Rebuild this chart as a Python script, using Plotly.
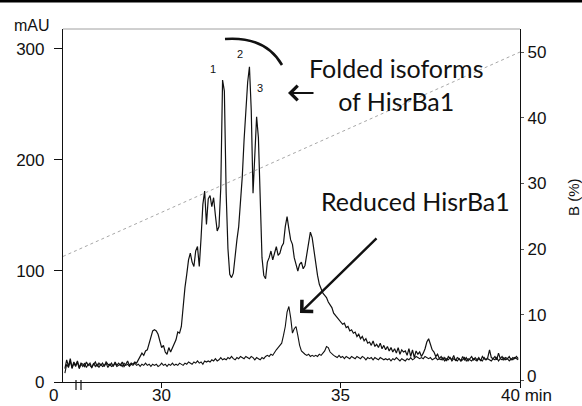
import numpy as np
import plotly.graph_objects as go

# ---------------- data ----------------
# sampling grid of the chromatograms (min)
t_start, t_step, n_pts = 27.30, 0.05, 254
time_min = [round(t_start + t_step * i, 2) for i in range(n_pts)]

folded_mAU = [
    12, 20, 14, 21, 13, 18, 15, 19, 13, 17,
    16, 14, 18, 15, 17, 13, 16, 18, 14, 17,
    15, 17, 14, 18, 16, 15, 17, 14, 18, 15,
    17, 15, 18, 14, 16, 19, 15, 17, 16, 18,
    17, 20, 22, 26, 24, 28, 29, 35, 41, 46,
    47, 46, 43, 36, 31, 33, 27, 25, 31, 27,
    31, 35, 38, 45, 44, 50, 72, 85, 97, 110,
    116, 108, 104, 118, 122, 104, 130, 160, 172, 142,
    165, 168, 158, 166, 150, 136, 140, 175, 272, 262,
    170, 120, 97, 94, 98, 115, 128, 140, 160, 185,
    218, 245, 270, 284, 245, 170, 212, 239, 220, 160,
    112, 96, 93, 108, 112, 118, 110, 116, 122, 114,
    116, 122, 125, 140, 149, 138, 128, 124, 112, 106,
    100, 106, 108, 102, 105, 115, 126, 135, 130, 118,
    104, 96, 88, 84, 80, 78, 76, 72, 70, 67,
    62, 60, 58, 56, 55, 52, 53, 49, 50, 46,
    47, 44, 45, 41, 43, 39, 41, 37, 39, 35,
    36, 33, 37, 32, 34, 31, 35, 30, 33, 29,
    32, 28, 31, 27, 30, 26, 31, 25, 29, 27,
    28, 24, 30, 23, 29, 22, 28, 25, 27, 23,
    26, 30, 36, 39, 34, 29, 27, 23, 25, 21,
    23, 20, 22, 19, 23, 21, 20, 24, 19, 22,
    21, 19, 23, 20, 22, 19, 21, 23, 20, 22,
    20, 22, 19, 23, 21, 20, 22, 29, 22, 21,
    23, 20, 26, 21, 23, 20, 22, 21, 23, 20,
    22, 21, 23, 21,
]

reduced_mAU = [
    8, 16, 13, 19, 12, 17, 14, 18, 12, 16,
    14, 17, 13, 16, 15, 13, 17, 14, 16, 13,
    16, 14, 15, 17, 13, 16, 14, 15, 17, 14,
    15, 16, 14, 17, 15, 16, 14, 16, 15, 17,
    15, 16, 14, 16, 15, 17, 15, 16, 14, 16,
    15, 16, 14, 15, 17, 15, 16, 14, 16, 15,
    17, 15, 16, 15, 17, 16, 15, 17, 16, 18,
    17, 16, 18, 17, 19, 17, 18, 16, 19, 18,
    19, 18, 20, 19, 21, 19, 20, 22, 20, 21,
    20, 22, 21, 23, 21, 20, 22, 21, 23, 22,
    21, 23, 22, 21, 23, 22, 20, 22, 21, 20,
    22, 21, 23, 24, 23, 25, 24, 27, 29, 31,
    33, 35, 42, 50, 63, 68, 58, 44, 48, 50,
    42, 33, 28, 26, 25, 24, 25, 23, 24, 23,
    24, 23, 25, 24, 26, 28, 32, 31, 27, 25,
    24, 23, 22, 24, 22, 23, 21, 23, 22, 21,
    23, 22, 21, 23, 22, 21, 23, 22, 20, 22,
    21, 22, 20, 22, 21, 20, 22, 21, 20, 21,
    20, 21, 19, 21, 20, 22, 20, 19, 21, 20,
    19, 21, 20, 22, 20, 21, 23, 22, 21, 22,
    21, 23, 22, 21, 22, 20, 21, 22, 20, 21,
    20, 22, 19, 21, 20, 22, 19, 21, 20, 19,
    21, 19, 20, 22, 19, 21, 20, 19, 21, 20,
    19, 21, 20, 19, 22, 20, 21, 20, 19, 21,
    20, 22, 19, 21, 20, 22, 20, 21, 19, 21,
    20, 22, 21, 20,
]

# gradient of solvent B (%)
gradient_time = [27.247, 40.0]
gradient_B = [18.9, 50.0]

left_ticks = [0, 100, 200, 300]
right_ticks = [0, 10, 20, 30, 40, 50]
right_ticklabels = ["", "10", "20", "30", "40", "50"]
x_ticks = [30, 35, 40]
x_ticklabels = ["30", "35", "40 min"]

# ---------------- layout geometry ----------------
W, H = 582, 406
ML, MR, MT, MB = 63, 62, 29, 24
X_RANGE = [27.247, 40.0]
Y_RANGE = [0, 318]
Y2_RANGE = [-0.2, 53.5]

pw = W - ML - MR
ph = H - MT - MB


def px_to_x(px):
    return X_RANGE[0] + (px - ML) / pw * (X_RANGE[1] - X_RANGE[0])


def py_to_y(py):
    return Y_RANGE[0] + (H - MB - py) / ph * (Y_RANGE[1] - Y_RANGE[0])


def px_to_paper(px):
    return (px - ML) / pw


def py_to_paper(py):
    return (H - MB - py) / ph


AX_FONT = "Liberation Sans, Arial, sans-serif"
TXT_FONT = "Lato, Open Sans, sans-serif"

fig = go.Figure()

fig.add_trace(go.Scatter(
    x=gradient_time, y=gradient_B, yaxis="y2", mode="lines",
    line=dict(color="#a8a8a8", width=1, dash="dot"), hoverinfo="skip",
))
fig.add_trace(go.Scatter(
    x=time_min, y=reduced_mAU, mode="lines",
    line=dict(color="#111111", width=1.1), hoverinfo="skip",
))
fig.add_trace(go.Scatter(
    x=time_min, y=folded_mAU, mode="lines",
    line=dict(color="#111111", width=1.2), hoverinfo="skip",
))

tick_font = dict(family=AX_FONT, size=17, color="#111")
XLAB_Y = 395
annotations = [
    dict(text="mAU", xref="paper", yref="paper", x=px_to_paper(12), y=py_to_paper(26),
         xanchor="left", yanchor="middle", showarrow=False,
         font=dict(family=AX_FONT, size=16, color="#111")),
    dict(text="B (%)", xref="paper", yref="paper", x=px_to_paper(573), y=py_to_paper(197),
         xanchor="center", yanchor="middle", textangle=-90, showarrow=False,
         font=dict(family=AX_FONT, size=15, color="#111")),
    # right-axis zero label (sits slightly above its tick, as in the original)
    dict(text=str(right_ticks[0]), xref="paper", yref="paper", x=px_to_paper(525), y=py_to_paper(376),
         xanchor="left", yanchor="middle", showarrow=False, font=tick_font),
    dict(text="0", xref="paper", yref="paper", x=px_to_paper(53), y=py_to_paper(XLAB_Y),
         xanchor="center", yanchor="middle", showarrow=False, font=tick_font),
    dict(text=x_ticklabels[0], x=x_ticks[0], xref="x", yref="paper", y=py_to_paper(XLAB_Y),
         xanchor="center", yanchor="middle", showarrow=False, font=tick_font),
    dict(text=x_ticklabels[1], x=x_ticks[1], xref="x", yref="paper", y=py_to_paper(XLAB_Y),
         xanchor="center", yanchor="middle", showarrow=False, font=tick_font),
    dict(text=x_ticklabels[2], xref="paper", yref="paper", x=px_to_paper(499), y=py_to_paper(XLAB_Y),
         xanchor="left", yanchor="middle", showarrow=False, font=tick_font),
    dict(text="1", x=px_to_x(213), y=py_to_y(69), showarrow=False,
         font=dict(family=AX_FONT, size=11, color="#111")),
    dict(text="2", x=px_to_x(240), y=py_to_y(54), showarrow=False,
         font=dict(family=AX_FONT, size=11, color="#111")),
    dict(text="3", x=px_to_x(260), y=py_to_y(88), showarrow=False,
         font=dict(family=AX_FONT, size=11, color="#111")),
    dict(text="Folded isoforms<br>of HisrBa1", x=px_to_x(396), y=py_to_y(84),
         xanchor="center", yanchor="middle", align="center", showarrow=False,
         font=dict(family=TXT_FONT, size=25, color="#111")),
    dict(text="Reduced HisrBa1", x=px_to_x(415), y=py_to_y(201),
         xanchor="center", yanchor="middle", showarrow=False,
         font=dict(family=TXT_FONT, size=25, color="#111")),
    # arrows
    dict(text="", x=px_to_x(288), y=py_to_y(93), ax=27, ay=0, showarrow=True,
         arrowhead=4, arrowsize=1.3, arrowwidth=2.2, arrowcolor="#111", standoff=0),
    dict(text="", x=px_to_x(300), y=py_to_y(313), ax=78, ay=-76, showarrow=True,
         arrowhead=4, arrowsize=1.3, arrowwidth=2.4, arrowcolor="#111", standoff=0),
]

shapes = [
    # gray top frame
    dict(type="line", xref="paper", yref="paper", x0=0, x1=1, y0=1, y1=1,
         line=dict(color="#a0a0a0", width=1)),
    # axis break marks
    dict(type="line", xref="x", yref="paper", x0=px_to_x(76), x1=px_to_x(76),
         y0=py_to_paper(380), y1=py_to_paper(390), line=dict(color="#111", width=1.2)),
    dict(type="line", xref="x", yref="paper", x0=px_to_x(81), x1=px_to_x(81),
         y0=py_to_paper(380), y1=py_to_paper(390), line=dict(color="#111", width=1.2)),
    # arc over the folded peaks
    dict(type="path", xref="x", yref="y",
         path=f"M {px_to_x(225)},{py_to_y(39)} Q {px_to_x(265)},{py_to_y(36)} {px_to_x(282)},{py_to_y(65)}",
         line=dict(color="#111", width=2.6)),
    # black border at the top of the picture
    dict(type="line", xref="paper", yref="paper", x0=px_to_paper(-5), x1=px_to_paper(590),
         y0=py_to_paper(1.2), y1=py_to_paper(1.2), line=dict(color="#000", width=2.6)),
]

fig.update_layout(
    width=W, height=H,
    margin=dict(l=ML, r=MR, t=MT, b=MB, pad=0, autoexpand=False),
    paper_bgcolor="white", plot_bgcolor="white",
    showlegend=False,
    annotations=annotations,
    shapes=shapes,
    xaxis=dict(range=X_RANGE, tickvals=x_ticks, ticktext=["", "", ""],
               automargin=False,
               showline=True, linecolor="#111", linewidth=1.2,
               ticks="outside", ticklen=5, tickcolor="#111", tickwidth=1.2,
               showgrid=False, zeroline=False),
    yaxis=dict(range=Y_RANGE, tickvals=left_ticks, automargin=False,
               showline=True, linecolor="#111", linewidth=1.2,
               ticks="outside", ticklen=8, tickcolor="#111", tickwidth=1.2,
               ticklabelstandoff=6,
               showgrid=False, zeroline=False,
               tickfont=dict(family=AX_FONT, size=17, color="#111")),
    yaxis2=dict(range=Y2_RANGE, tickvals=right_ticks, ticktext=right_ticklabels,
                overlaying="y", side="right",
                automargin=False,
                showline=True, linecolor="#111", linewidth=1.2,
                ticks="outside", ticklen=3, tickcolor="#555", tickwidth=1,
                showgrid=False, zeroline=False,
                tickfont=dict(family=AX_FONT, size=17, color="#111")),
)

fig.write_html(
    "out.html",
    config={"displayModeBar": False},
    post_script="document.body.style.margin='0';document.body.style.overflow='hidden';",
)
